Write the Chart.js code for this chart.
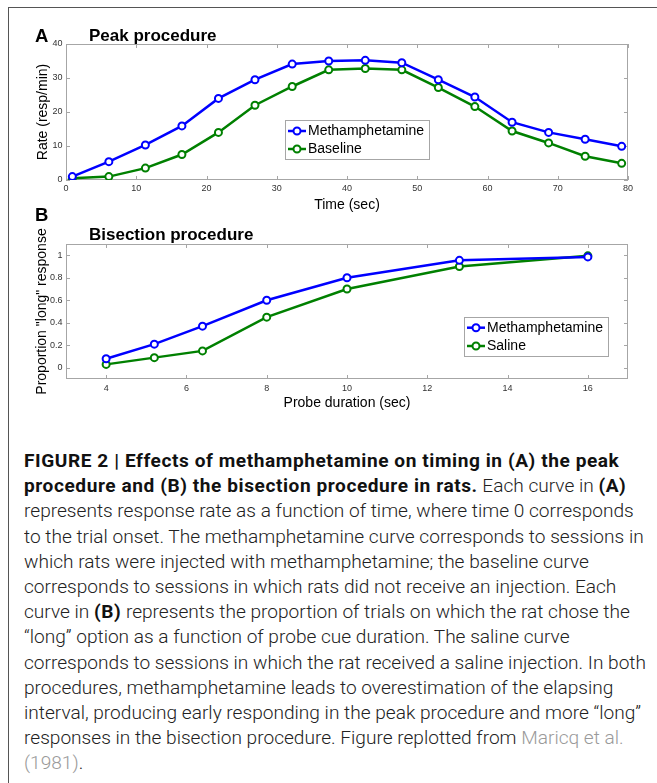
<!DOCTYPE html>
<html>
<head>
<meta charset="utf-8">
<title>Figure 2</title>
<script src="https://cdn.jsdelivr.net/npm/chart.js@4.4.1/dist/chart.umd.min.js"></script>
<style>
  body { margin: 0; width: 657px; height: 783px; overflow: hidden; position: relative; background: #fff;
         font-family: "Liberation Sans", Arial, sans-serif; }
  #frame { position: absolute; left: 8px; top: 7px; right: 0; bottom: 0;
           border-left: 1.5px solid #555; border-top: 1.5px solid #555; }
  canvas { position: absolute; left: 0; }
  #peak { top: 0; }
  #bisect { top: 215px; }
  .tag { position: absolute; font-weight: bold; line-height: 1; color: #000; white-space: nowrap; }
  .letter { font-size: 18.5px; left: 35px; }
  .ptitle { font-size: 17px; left: 89px; }
  #caption { position: absolute; left: 24px; top: 449px; font-family: Roboto, "Liberation Sans", sans-serif;
             font-weight: 300; font-size: 18.5px; line-height: 25.2px; color: #222; transform-origin: 0 0; }
  #caption div { white-space: nowrap; }
  #caption b { font-weight: 700; color: #111; letter-spacing: 0.55px; }
  #caption .ref { color: #9a9a9a; }
</style>
</head>
<body>
<div id="frame"></div>
<canvas id="peak" width="657" height="215"></canvas>
<canvas id="bisect" width="657" height="205"></canvas>
<div class="tag letter" style="top:27px">A</div>
<div class="tag ptitle" style="top:27px">Peak procedure</div>
<div class="tag letter" style="top:206px">B</div>
<div class="tag ptitle" style="top:225.5px">Bisection procedure</div>

<div id="caption">
  <div><b>FIGURE 2 | Effects of methamphetamine on timing in (A) the peak</b></div>
  <div><b>procedure and (B) the bisection procedure in rats.</b> Each curve in <b>(A)</b></div>
  <div>represents response rate as a function of time, where time 0 corresponds</div>
  <div id="longest">to the trial onset. The methamphetamine curve corresponds to sessions in</div>
  <div>which rats were injected with methamphetamine; the baseline curve</div>
  <div>corresponds to sessions in which rats did not receive an injection. Each</div>
  <div>curve in <b>(B)</b> represents the proportion of trials on which the rat chose the</div>
  <div>“long” option as a function of probe cue duration. The saline curve</div>
  <div>corresponds to sessions in which the rat received a saline injection. In both</div>
  <div>procedures, methamphetamine leads to overestimation of the elapsing</div>
  <div>interval, producing early responding in the peak procedure and more “long”</div>
  <div>responses in the bisection procedure. Figure replotted from <span class="ref">Maricq et al.</span></div>
  <div><span class="ref">(1981)</span>.</div>
</div>

<script>
// Panel A: peak procedure
const peakTime = [0.9, 6.1, 11.3, 16.5, 21.7, 26.9, 32.2, 37.4, 42.6, 47.8, 53.0, 58.2, 63.5, 68.7, 73.9, 79.1];
const peakMeth = [1.0, 5.4, 10.3, 15.9, 24.0, 29.5, 34.1, 35.0, 35.2, 34.5, 29.5, 24.4, 17.0, 14.0, 12.0, 9.9];
const peakBase = [0.5, 1.0, 3.5, 7.5, 14.0, 22.0, 27.5, 32.4, 32.8, 32.4, 27.2, 21.6, 14.4, 10.9, 7.0, 4.9];
const peakXTicks = [0, 10, 20, 30, 40, 50, 60, 70, 80];
const peakYTicks = [0, 10, 20, 30, 40];

// Panel B: bisection procedure
const probeDur = [4, 5.2, 6.4, 8, 10, 12.8, 16];
const bisMeth = [0.08, 0.21, 0.37, 0.60, 0.80, 0.955, 0.985];
const bisSaline = [0.03, 0.09, 0.15, 0.45, 0.70, 0.90, 0.995];
const bisXTicks = [4, 6, 8, 10, 12, 14, 16];
const bisYTicks = [0, 0.2, 0.4, 0.6, 0.8, 1];

const BLUE = '#0000ff';
const GREEN = '#008000';
const AXIS_GRAY = '#a6a6a6';
const FONT = '"Liberation Sans", Arial, sans-serif';

// box around the plot area with inward ticks on all four sides (matlab style)
const frameTicks = {
  id: 'frameTicks',
  beforeDatasetsDraw(chart) {
    const { ctx, chartArea: a, scales: { x, y } } = chart;
    const len = 4;
    ctx.save();
    ctx.strokeStyle = AXIS_GRAY;
    ctx.lineWidth = 1;
    ctx.strokeRect(a.left + 0.5, a.top + 0.5, a.right - a.left - 1, a.bottom - a.top - 1);
    ctx.beginPath();
    x.ticks.forEach((t) => {
      const px = Math.round(x.getPixelForValue(t.value)) + 0.5;
      ctx.moveTo(px, a.bottom); ctx.lineTo(px, a.bottom - len);
      ctx.moveTo(px, a.top); ctx.lineTo(px, a.top + len);
    });
    y.ticks.forEach((t) => {
      const py = Math.round(y.getPixelForValue(t.value)) + 0.5;
      ctx.moveTo(a.left, py); ctx.lineTo(a.left + len, py);
      ctx.moveTo(a.right, py); ctx.lineTo(a.right - len, py);
    });
    ctx.stroke();
    ctx.restore();
  },
};

// legend in a bordered box, placed by pixel position in the canvas
const boxLegend = {
  id: 'boxLegend',
  afterDatasetsDraw(chart, args, o) {
    const { ctx } = chart;
    ctx.save();
    ctx.fillStyle = '#fff';
    ctx.fillRect(o.x, o.y, o.w, o.h);
    ctx.strokeStyle = AXIS_GRAY;
    ctx.lineWidth = 1;
    ctx.strokeRect(o.x + 0.5, o.y + 0.5, o.w, o.h);
    ctx.font = '14px ' + FONT;
    ctx.textBaseline = 'middle';
    chart.data.datasets.forEach((ds, i) => {
      const cy = o.y + o.first + i * o.gap;
      const x0 = o.x + 3;
      const x1 = x0 + 18;
      ctx.strokeStyle = ds.borderColor;
      ctx.lineWidth = 2.5;
      ctx.beginPath();
      ctx.moveTo(x0, cy); ctx.lineTo(x1, cy);
      ctx.stroke();
      ctx.lineWidth = 2;
      ctx.fillStyle = '#fff';
      ctx.beginPath();
      ctx.arc((x0 + x1) / 2, cy, 3.5, 0, Math.PI * 2);
      ctx.fill();
      ctx.stroke();
      ctx.fillStyle = '#000';
      ctx.fillText(ds.label, x1 + 2, cy + 0.5);
    });
    ctx.restore();
  },
};

function series(label, xs, ys, color) {
  return {
    label,
    data: xs.map((x, i) => ({ x, y: ys[i] })),
    borderColor: color,
    backgroundColor: '#fff',
    borderWidth: 2.5,
    pointRadius: 3.5,
    pointBorderWidth: 2,
    pointBackgroundColor: '#fff',
    pointBorderColor: color,
    tension: 0,
  };
}

function axis(min, max, tickValues, title, opts) {
  return {
    type: 'linear',
    min,
    max,
    afterBuildTicks: (s) => { s.ticks = tickValues.map((v) => ({ value: v })); },
    afterFit: opts.fit,
    grid: { display: false, drawTicks: false },
    border: { display: false },
    ticks: { font: { size: 9, family: FONT }, color: '#333', padding: opts.pad,
             callback: (v) => String(v) },
    title: { display: true, text: title, color: '#000', font: { size: 14, family: FONT },
             padding: opts.titlePad },
  };
}

function makeChart(id, datasets, cfg) {
  return new Chart(document.getElementById(id), {
    type: 'line',
    data: { datasets },
    options: {
      responsive: false,
      animation: false,
      devicePixelRatio: 1,
      layout: { padding: { left: 0, right: 29, top: cfg.top, bottom: 0 } },
      scales: { x: cfg.x, y: cfg.y },
      plugins: { legend: { display: false }, tooltip: { enabled: false }, boxLegend: cfg.legend },
    },
    plugins: [frameTicks, boxLegend],
  });
}

makeChart('peak', [
  series('Methamphetamine', peakTime, peakMeth, BLUE),
  series('Baseline', peakTime, peakBase, GREEN),
], {
  top: 44,
  x: axis(0, 80, peakXTicks, 'Time (sec)', { fit: (s) => { s.height = 35; }, pad: 3, titlePad: { top: 0, bottom: 1.6 } }),
  y: axis(0, 40, peakYTicks, 'Rate (resp/min)', { fit: (s) => { s.width = 66; }, pad: 3.5, titlePad: { top: 35.2, bottom: 0 } }),
  legend: { x: 285, y: 120, w: 144, h: 39, first: 11, gap: 18 },
});

makeChart('bisect', [
  series('Methamphetamine', probeDur, bisMeth, BLUE),
  series('Saline', probeDur, bisSaline, GREEN),
], {
  top: 29,
  x: axis(3, 17, bisXTicks, 'Probe duration (sec)', { fit: (s) => { s.height = 41; }, pad: 4, titlePad: { top: 0, bottom: 8.3 } }),
  y: axis(-0.1, 1.1, bisYTicks, 'Proportion "long" response', { fit: (s) => { s.width = 66; }, pad: 3.5, titlePad: { top: 34, bottom: 0 } }),
  legend: { x: 464, y: 102, w: 144, h: 39, first: 10.7, gap: 18.3 },
});

// squeeze the caption horizontally so the longest line ends where it does in the figure
const cap = document.getElementById('caption');
const w = document.getElementById('longest').getBoundingClientRect().width;
cap.style.transform = 'scaleX(' + (622 / w) + ')';
</script>
</body>
</html>
